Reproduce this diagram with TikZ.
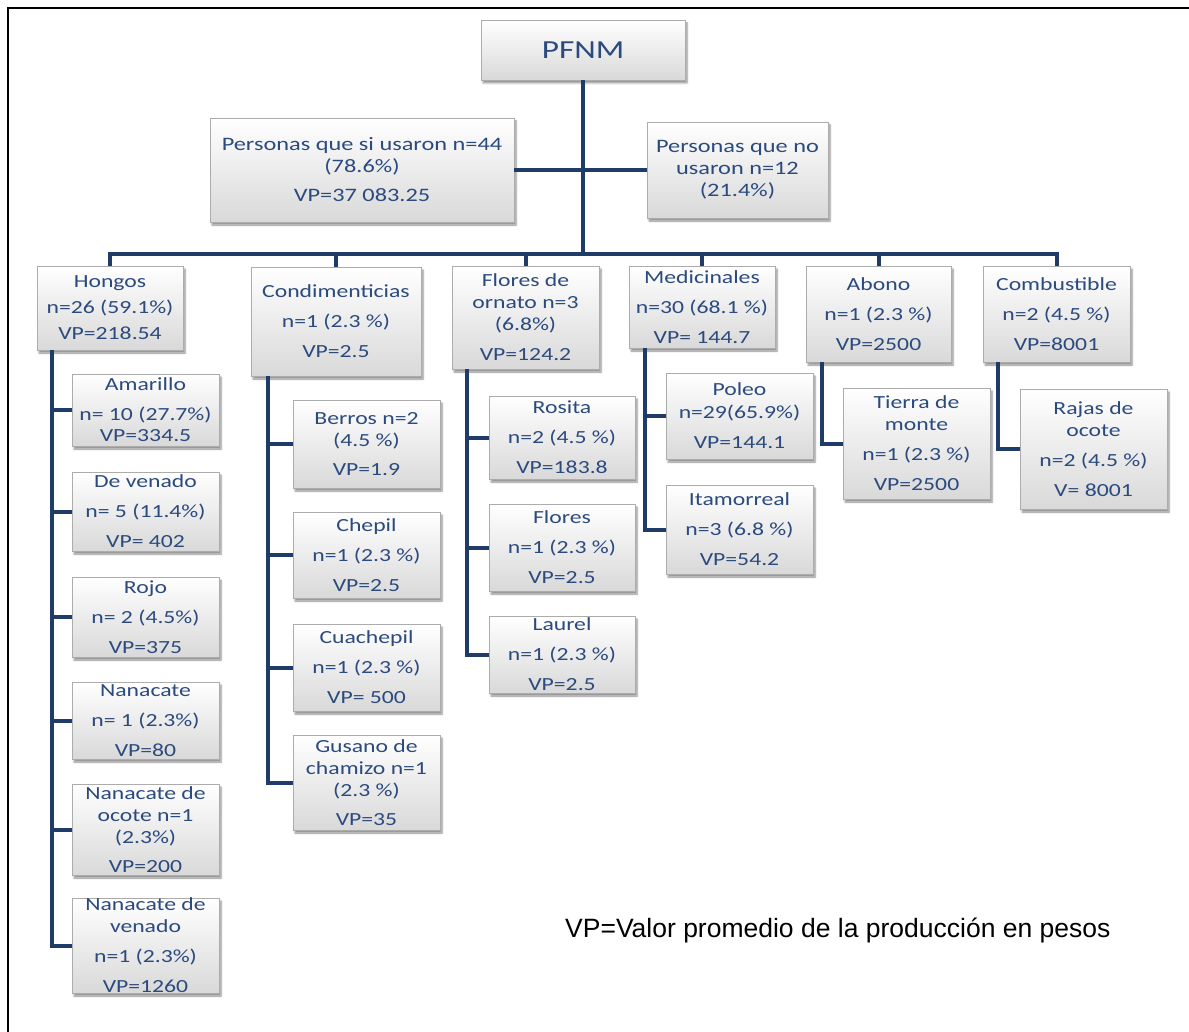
\documentclass[tikz,border=0pt]{standalone}
\usepackage{fontspec}
\setmainfont{Carlito}
\newfontfamily\bxfont{Carlito}[FakeStretch=1.28]
\newfontfamily\notefont{Liberation Sans}
\usetikzlibrary{shadows.blur}
\definecolor{txtblue}{HTML}{2B4A7E}
\definecolor{lnblue}{HTML}{1F3B68}
\tikzset{
  bx/.style={draw=gray!65, line width=0.6pt, top color=white, bottom color=gray!30,
    text=txtblue, align=center, inner sep=0pt,
    font=\bxfont\fontsize{18.5}{22}\selectfont,
    blur shadow={shadow xshift=2pt, shadow yshift=-3pt, shadow blur steps=6, shadow opacity=45}},
  ln/.style={draw=lnblue, line width=4pt},
}
\newcommand\boxnode[7][]{\node[bx,minimum width={(#5-#3)*1pt},minimum height={(#6-#4)*1pt},#1] (#2) at ({(#3+#5)/2},{(#4+#6)/2}) {#7};}
\begin{document}
\begin{tikzpicture}[x=1pt,y=-1pt]
\useasboundingbox (0,0) rectangle (1189,1032);
\draw[line width=2pt] (8,1032) -- (8,8) -- (1189,8);

% top level
\boxnode[font=\bxfont\fontsize{26}{30}\selectfont]{pfnm}{481}{20}{685}{80}{PFNM}
\boxnode[font=\bxfont\fontsize{19}{22}\selectfont]{si}{210}{118}{514}{222}{Personas que si usaron n=44\\(78.6\%)\\[7pt]VP=37 083.25}
\boxnode[font=\bxfont\fontsize{19}{22}\selectfont]{no}{647}{122}{828}{218}{Personas que no\\usaron n=12\\(21.4\%)}

% categories
\boxnode{hongos}{37}{266}{183}{350}{Hongos\\[4pt]n=26 (59.1\%)\\[4pt]VP=218.54}
\boxnode{cond}{251}{267}{421}{376}{Condimenticias\\[8pt]n=1 (2.3 \%)\\[8pt]VP=2.5}
\boxnode{flor}{452}{266}{599}{369}{Flores de\\ornato n=3\\(6.8\%)\\[8pt]VP=124.2}
\boxnode{med}{629}{266}{775}{348}{Medicinales\\[8pt]n=30 (68.1 \%)\\[8pt]VP= 144.7}
\boxnode{abono}{806}{266}{951}{362}{Abono\\[8pt]n=1 (2.3 \%)\\[8pt]VP=2500}
\boxnode{comb}{983}{266}{1130}{362}{Combustible\\[8pt]n=2 (4.5 \%)\\[8pt]VP=8001}

% Hongos children
\boxnode{amar}{72}{374}{219}{446}{Amarillo\\[8pt]n= 10 (27.7\%)\\[-1pt]VP=334.5}
\boxnode{dven}{72}{472}{219}{551}{De venado\\[8pt]n= 5 (11.4\%)\\[8pt]VP= 402}
\boxnode{rojo}{72}{577}{219}{657}{Rojo\\[8pt]n= 2 (4.5\%)\\[8pt]VP=375}
\boxnode{nana}{72}{682}{219}{759}{Nanacate\\[8pt]n= 1 (2.3\%)\\[8pt]VP=80}
\boxnode{noco}{72}{784}{219}{875}{Nanacate de\\ocote n=1\\(2.3\%)\\[7pt]VP=200}
\boxnode{nven}{72}{898}{219}{993}{Nanacate de\\venado\\[8pt]n=1 (2.3\%)\\[8pt]VP=1260}

% Condimenticias children
\boxnode{berros}{293}{400}{440}{488}{Berros n=2\\(4.5 \%)\\[7pt]VP=1.9}
\boxnode{chepil}{293}{512}{440}{598}{Chepil\\[8pt]n=1 (2.3 \%)\\[8pt]VP=2.5}
\boxnode{cuach}{293}{624}{440}{711}{Cuachepil\\[8pt]n=1 (2.3 \%)\\[8pt]VP= 500}
\boxnode{gusano}{293}{735}{440}{830}{Gusano de\\chamizo n=1\\(2.3 \%)\\[7pt]VP=35}

% Flores children
\boxnode{rosita}{489}{396}{635}{479}{Rosita\\[8pt]n=2 (4.5 \%)\\[8pt]VP=183.8}
\boxnode{flores}{489}{504}{635}{591}{Flores\\[8pt]n=1 (2.3 \%)\\[8pt]VP=2.5}
\boxnode{laurel}{489}{616}{635}{693}{Laurel\\[8pt]n=1 (2.3 \%)\\[8pt]VP=2.5}

% Medicinales children
\boxnode{poleo}{666}{373}{813}{459}{Poleo\\[1pt]n=29(65.9\%)\\[8pt]VP=144.1}
\boxnode{itam}{666}{485}{813}{574}{Itamorreal\\[8pt]n=3 (6.8 \%)\\[8pt]VP=54.2}

% Abono / Combustible children
\boxnode{tierra}{843}{388}{990}{499}{Tierra de\\monte\\[8pt]n=1 (2.3 \%)\\[8pt]VP=2500}
\boxnode{rajas}{1020}{389}{1167}{509}{Rajas de\\ocote\\[8pt]n=2 (4.5 \%)\\[8pt]V= 8001}

% connectors
\coordinate (bus) at (583,254);
\draw[ln] (pfnm.south) -- (pfnm.south |- bus);
\draw[ln] (si.east) -- (no.west);
\draw[ln] (hongos.north) -- (hongos.north |- bus) -- (comb.north |- bus) -- (comb.north);
\foreach \n in {cond,flor,med,abono}{\draw[ln] (\n.north |- bus) -- (\n.north);}

\coordinate (hv) at ([xshift=15pt]hongos.south west);
\draw[ln] (hv) |- (nven.west);
\foreach \n in {amar,dven,rojo,nana,noco}{\draw[ln] (hv |- \n.west) -- (\n.west);}

\coordinate (cv) at ([xshift=17pt]cond.south west);
\draw[ln] (cv) |- (gusano.west);
\foreach \n in {berros,chepil,cuach}{\draw[ln] (cv |- \n.west) -- (\n.west);}

\coordinate (fv) at ([xshift=15pt]flor.south west);
\draw[ln] (fv) |- (laurel.west);
\foreach \n in {rosita,flores}{\draw[ln] (fv |- \n.west) -- (\n.west);}

\coordinate (mv) at ([xshift=16pt]med.south west);
\draw[ln] (mv) |- (itam.west);
\draw[ln] (mv |- poleo.west) -- (poleo.west);

\coordinate (av) at ([xshift=16pt]abono.south west);
\draw[ln] (av) |- (tierra.west);
\coordinate (kv) at ([xshift=15pt]comb.south west);
\draw[ln] (kv) |- (rajas.west);

\node[font=\notefont\fontsize{26.5}{30}\selectfont, anchor=west, inner sep=0pt] (note) at (565,930) {VP=Valor promedio de la producción en pesos};
\end{tikzpicture}
\end{document}
